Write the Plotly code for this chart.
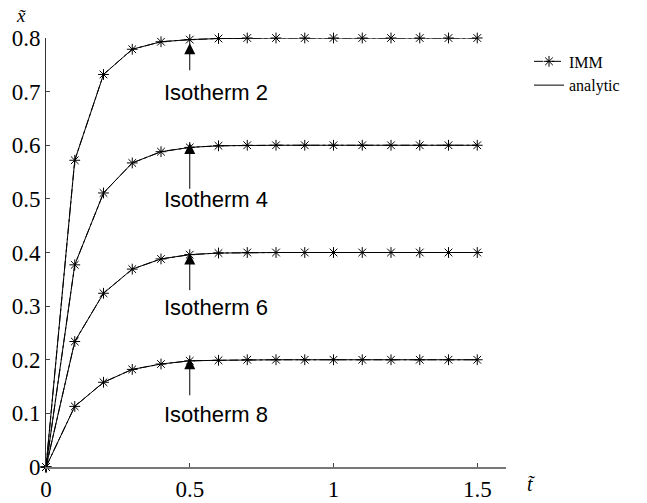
import plotly.graph_objects as go

t = [0, 0.1, 0.2, 0.3, 0.4, 0.5, 0.6, 0.7, 0.8, 0.9, 1.0, 1.1, 1.2, 1.3, 1.4, 1.5]
iso2 = [0, 0.572, 0.732, 0.779, 0.793, 0.797, 0.799, 0.8, 0.8, 0.8, 0.8, 0.8, 0.8, 0.8, 0.8, 0.8]
iso4 = [0, 0.377, 0.511, 0.567, 0.588, 0.596, 0.599, 0.6, 0.6, 0.6, 0.6, 0.6, 0.6, 0.6, 0.6, 0.6]
iso6 = [0, 0.234, 0.324, 0.369, 0.388, 0.396, 0.399, 0.4, 0.4, 0.4, 0.4, 0.4, 0.4, 0.4, 0.4, 0.4]
iso8 = [0, 0.113, 0.158, 0.182, 0.192, 0.198, 0.199, 0.2, 0.2, 0.2, 0.2, 0.2, 0.2, 0.2, 0.2, 0.2]
series = [iso2, iso4, iso6, iso8]
labels = ["Isotherm 2", "Isotherm 4", "Isotherm 6", "Isotherm 8"]
label_y = [0.698, 0.498, 0.298, 0.098]
arrow_tip = [0.790, 0.604, 0.398, 0.203]
arrow_tail = [0.737, 0.516, 0.327, 0.131]
xticks = [0, 0.5, 1, 1.5]
xticklabels = ["0", "0.5", "1", "1.5"]
yticks = [0, 0.1, 0.2, 0.3, 0.4, 0.5, 0.6, 0.7, 0.8]
yticklabels = ["0", "0.1", "0.2", "0.3", "0.4", "0.5", "0.6", "0.7", "0.8"]

SERIF = "Liberation Serif"
SANS = "Liberation Sans, Arial, sans-serif"

fig = go.Figure()
for i, s in enumerate(series):
    fig.add_trace(go.Scatter(
        x=t, y=s, mode="lines", name="analytic",
        line=dict(color="black", width=1),
        legendgroup="analytic", showlegend=(i == 0), legendrank=2,
        cliponaxis=False, hoverinfo="skip"))
for i, s in enumerate(series):
    fig.add_trace(go.Scatter(
        x=t, y=s, mode="lines+markers", name="IMM",
        line=dict(color="black", width=1, dash="dashdot"),
        marker=dict(symbol="asterisk-open", size=9, color="black",
                    line=dict(color="black", width=1)),
        legendgroup="IMM", showlegend=(i == 0), legendrank=1,
        cliponaxis=False, hoverinfo="skip"))

annotations = []
for lab, ly, tip, tail in zip(labels, label_y, arrow_tip, arrow_tail):
    annotations.append(dict(
        x=0.5, y=tip, ax=0.5, ay=tail, xref="x", yref="y", axref="x", ayref="y",
        text="", showarrow=True, arrowhead=2, arrowsize=2.2, arrowwidth=1,
        arrowcolor="black", standoff=0, startstandoff=0))
    annotations.append(dict(
        x=0.405, y=ly, xref="x", yref="y", text=lab, showarrow=False,
        xanchor="left", yanchor="middle",
        font=dict(family=SANS, size=22, color="black")))

annotations.append(dict(
    x=-0.054, y=1.052, xref="paper", yref="paper", text="<i>x̃</i>",
    showarrow=False, xanchor="center", yanchor="middle",
    font=dict(family=SERIF, size=19, color="black")))
annotations.append(dict(
    x=1.055, y=-0.039, xref="paper", yref="paper", text="<i>t̃</i>",
    showarrow=False, xanchor="center", yanchor="middle",
    font=dict(family=SERIF, size=20, color="black")))

fig.update_layout(
    width=647, height=503,
    margin=dict(l=46, r=141, t=38, b=36, autoexpand=False),
    paper_bgcolor="white", plot_bgcolor="white",
    showlegend=True,
    legend=dict(x=1.05, y=0.985, xanchor="left", yanchor="top",
                font=dict(family=SERIF, size=16, color="black"),
                bgcolor="rgba(0,0,0,0)", borderwidth=0,
                tracegroupgap=0, itemwidth=30),
    annotations=annotations,
    xaxis=dict(range=[0, 1.6], tickvals=xticks, ticktext=xticklabels,
               ticks="inside", ticklen=4, tickcolor="#444",
               showline=True, linecolor="#777", linewidth=2,
               showgrid=False, zeroline=False, automargin=False,
               tickfont=dict(family=SERIF, size=23, color="black")),
    yaxis=dict(range=[0, 0.8], tickvals=yticks, ticktext=yticklabels,
               ticks="inside", ticklen=4, tickcolor="#444",
               showline=True, linecolor="#333", linewidth=1,
               showgrid=False, zeroline=False, automargin=False,
               tickfont=dict(family=SERIF, size=23, color="black")),
)

fig.write_html("out.html",
               config={"displayModeBar": False},
               post_script="document.body.style.margin='0px';document.body.style.padding='0px';")
